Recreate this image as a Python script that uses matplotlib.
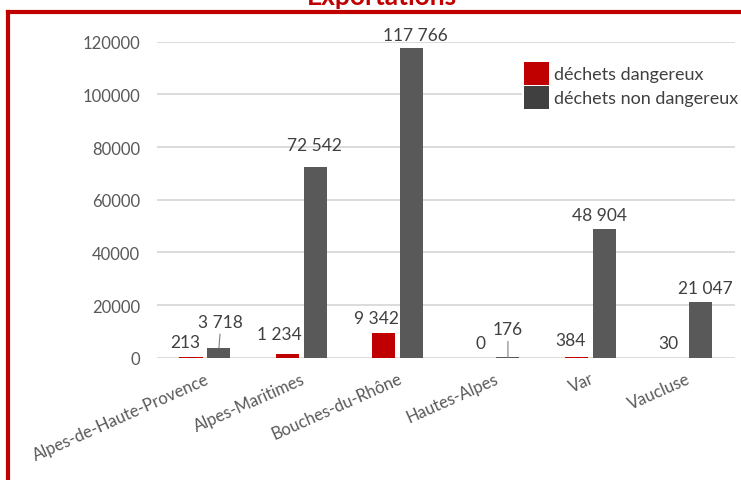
import matplotlib
matplotlib.use('Agg')
import matplotlib.pyplot as plt
import numpy as np
from matplotlib.lines import Line2D
from matplotlib.patches import Patch

plt.rcParams['font.family'] = ['Lato', 'DejaVu Sans']

# data
departements = ['Alpes-de-Haute-Provence', 'Alpes-Maritimes', 'Bouches-du-Rhône',
                'Hautes-Alpes', 'Var', 'Vaucluse']
dangereux = [213, 1234, 9342, 0, 384, 30]
non_dangereux = [3718, 72542, 117766, 176, 48904, 21047]
series_names = ['déchets dangereux', 'déchets non dangereux']

# label offsets in pixels (manual placement as in the source chart)
off_dang = [(-6, 15), (-8, 20), (-7, 15), (1, 15), (-6, 17), (-4, 15)]
off_non = [(2, 26), (-1, 22), (4, 13), (0, 28), (-5, 14), (5, 14)]
leader = [True, False, False, True, False, False]

RED = '#C00000'
GREY = '#595959'
W, H = 741, 481

fig = plt.figure(figsize=(W / 100, H / 100), dpi=100)
ax = fig.add_axes([156.8 / W, 1 - 358.7 / H, 578 / W, 316 / H])

x = np.arange(len(departements))
ax.bar(x - 0.145, dangereux, 0.24, color=RED, lw=0, zorder=3)
ax.bar(x + 0.145, non_dangereux, 0.24, color=GREY, lw=0, zorder=3)

ax.set_xlim(-0.5, 5.5)
ax.set_ylim(0, 120000)
ax.set_yticks(range(0, 120001, 20000))
ax.yaxis.grid(True, color='#d9d9d9', lw=1.3)
ax.set_axisbelow(True)
for s in ax.spines.values():
    s.set_visible(False)

ax.tick_params(axis='both', length=0, colors=GREY, labelsize=12)
ax.tick_params(axis='y', pad=12)
ax.tick_params(axis='x', pad=9)
ax.set_xticks(x)
ax.set_xticklabels(departements, rotation=24, ha='right', va='top',
                   rotation_mode='anchor')


def fmt(v):
    return '{:,}'.format(v).replace(',', ' ')


for i in range(len(x)):
    ax.annotate(fmt(dangereux[i]), xy=(x[i] - 0.145, dangereux[i]),
                xytext=off_dang[i], textcoords='offset pixels',
                ha='center', va='center', fontsize=12.5, color='#404040',
                annotation_clip=False)
    kw = {}
    if leader[i]:
        kw['arrowprops'] = dict(arrowstyle='-', color='#7f7f7f', lw=0.8,
                                shrinkA=1, shrinkB=0)
    ax.annotate(fmt(non_dangereux[i]), xy=(x[i] + 0.145, non_dangereux[i]),
                xytext=off_non[i], textcoords='offset pixels',
                ha='center', va='center', fontsize=12.5, color='#404040',
                annotation_clip=False, **kw)

handles = [Patch(facecolor=RED), Patch(facecolor='#404040')]
leg = ax.legend(handles, series_names, loc='upper left',
                bbox_to_anchor=(522 / W, 1 - 61 / H), bbox_transform=fig.transFigure,
                frameon=True, facecolor='white', edgecolor='none', framealpha=1,
                borderpad=0.1, borderaxespad=0, handlelength=1.4, handleheight=1.6,
                labelspacing=0.05, handletextpad=0.25, fontsize=13,
                labelcolor='#404040', fancybox=False)

# cut-off title
fig.text(382 / W, 1 - 5 / H, 'Exportations', ha='center', va='baseline',
         fontsize=19, fontweight='bold', color=RED)

# red frame
fig.add_artist(Line2D([8 / W, 8 / W], [0, 1 - 12.5 / H], transform=fig.transFigure,
                      color=RED, lw=3, solid_capstyle='projecting'))
fig.add_artist(Line2D([8 / W, 1], [1 - 12.5 / H, 1 - 12.5 / H], transform=fig.transFigure,
                      color=RED, lw=3, solid_capstyle='projecting'))

plt.savefig('out.png', dpi=100)
